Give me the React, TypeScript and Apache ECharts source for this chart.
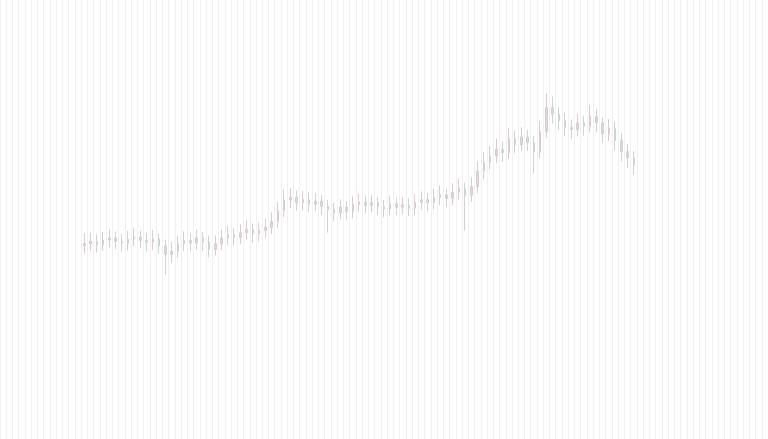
import React, { useEffect, useRef } from "react";
import * as echarts from "echarts";

// 123 trading-day slots across the canvas; candles occupy slots 13..101
const categories: string[] = Array.from({ length: 123 }, (_, i) => `D${i + 1}`);
const leadingEmpty = 13;
const trailingEmpty = 21;

// [open, close, low, high]
const candles: number[][] = [
  [44.0, 44.5, 42.2, 46.8], [44.5, 45.0, 42.8, 47.0], [45.0, 44.2, 42.5, 46.6], [44.2, 45.3, 42.9, 47.2],
  [45.3, 45.8, 43.6, 47.8], [45.8, 45.0, 43.2, 47.3], [45.0, 44.6, 42.6, 46.7], [44.6, 45.5, 43.0, 47.4],
  [45.5, 46.0, 43.9, 48.0], [46.0, 45.2, 43.4, 47.5], [45.2, 44.8, 42.7, 46.9], [44.8, 45.6, 43.1, 47.6],
  [45.6, 44.0, 42.2, 46.9], [44.0, 42.0, 37.5, 45.4], [42.0, 42.8, 40.2, 44.9], [42.8, 44.5, 41.3, 46.2],
  [44.5, 45.2, 42.8, 47.3], [45.2, 44.6, 42.9, 46.8], [44.6, 45.8, 43.1, 47.7], [45.8, 44.9, 43.0, 47.1],
  [44.9, 43.2, 41.4, 46.3], [43.2, 44.5, 41.8, 46.4], [44.5, 45.8, 43.0, 47.6], [45.8, 46.5, 44.2, 48.5],
  [46.5, 45.9, 44.0, 48.0], [45.9, 47.0, 44.4, 48.9], [47.0, 47.8, 45.5, 49.8], [47.8, 46.8, 44.6, 49.1],
  [46.8, 47.5, 45.0, 49.3], [47.5, 48.2, 45.9, 50.2], [48.2, 49.5, 46.8, 51.6], [49.5, 52.0, 48.0, 54.0],
  [52.0, 54.5, 50.5, 56.8], [54.5, 55.0, 52.6, 57.2], [55.0, 53.8, 52.0, 56.6], [53.8, 54.6, 52.1, 56.5],
  [54.6, 53.5, 51.7, 56.2], [53.5, 54.2, 51.9, 56.0], [54.2, 53.0, 51.1, 55.6], [53.0, 52.2, 47.0, 54.5],
  [52.2, 51.5, 49.6, 53.8], [51.5, 52.8, 50.0, 54.6], [52.8, 51.8, 50.0, 54.2], [51.8, 53.4, 50.3, 55.3],
  [53.4, 54.0, 51.8, 55.9], [54.0, 53.2, 51.4, 55.5], [53.2, 53.8, 51.6, 55.6], [53.8, 52.9, 51.1, 55.2],
  [52.9, 52.4, 50.5, 54.4], [52.4, 53.6, 50.9, 55.4], [53.6, 52.8, 51.0, 55.0], [52.8, 53.3, 51.2, 55.1],
  [53.3, 52.6, 50.8, 54.8], [52.6, 53.9, 51.1, 55.8], [53.9, 54.5, 52.2, 56.4], [54.5, 53.8, 52.0, 56.0],
  [53.8, 55.0, 52.3, 57.0], [55.0, 55.6, 53.3, 57.8], [55.6, 54.8, 52.9, 57.0], [54.8, 56.2, 53.2, 58.3],
  [56.2, 57.0, 54.5, 59.2], [57.0, 55.5, 47.5, 58.4], [55.5, 57.5, 54.0, 59.6], [57.5, 61.0, 56.0, 63.2],
  [61.0, 63.0, 59.2, 65.3], [63.0, 64.5, 61.4, 66.7], [64.5, 66.0, 62.8, 68.4], [66.0, 65.2, 63.1, 67.8],
  [65.2, 68.5, 63.8, 70.8], [68.5, 67.0, 65.1, 70.2], [67.0, 68.8, 65.5, 71.0], [68.8, 67.5, 65.6, 70.4],
  [67.5, 65.5, 60.5, 69.0], [65.5, 70.0, 64.0, 72.4], [70.0, 75.5, 68.6, 78.8], [75.5, 74.0, 71.9, 78.0],
  [74.0, 72.5, 70.4, 75.6], [72.5, 71.0, 69.0, 74.2], [71.0, 70.5, 68.4, 72.8], [70.5, 72.0, 68.9, 74.1],
  [72.0, 71.2, 69.1, 73.6], [71.2, 73.5, 69.8, 76.0], [73.5, 72.0, 69.9, 75.2], [72.0, 69.5, 67.5, 73.4],
  [69.5, 70.8, 67.9, 72.9], [70.8, 68.0, 65.8, 72.2], [68.0, 65.5, 63.2, 69.6], [65.5, 64.0, 61.8, 67.2],
  [64.0, 62.5, 60.2, 65.6],
];

export default function App() {
  const ref = useRef<HTMLDivElement>(null);
  useEffect(() => {
    document.body.style.margin = "0";
    const chart = echarts.init(ref.current!, undefined, { renderer: "svg" });
    const data: any[] = [
      ...Array(leadingEmpty).fill("-"),
      ...candles,
      ...Array(trailingEmpty).fill("-"),
    ];
    chart.setOption({
      animation: false,
      backgroundColor: "#ffffff",
      grid: { left: 0, right: 0, top: 0, bottom: 0 },
      xAxis: {
        type: "category",
        data: categories,
        boundaryGap: true,
        axisLine: { show: false },
        axisTick: { show: false },
        axisLabel: { show: false },
        splitLine: { show: true, interval: 0, lineStyle: { color: "#f0f0f0", width: 1 } },
      },
      yAxis: {
        type: "value",
        min: 0,
        max: 100,
        axisLine: { show: false },
        axisTick: { show: false },
        axisLabel: { show: false },
        splitLine: { show: false },
      },
      series: [
        {
          type: "candlestick",
          data,
          barWidth: 2,
          itemStyle: {
            color: "#e2d6d6",
            color0: "#d8dbd9",
            borderColor: "#d8cccc",
            borderColor0: "#cfd3d0",
            borderWidth: 1,
          },
        },
      ],
    });
    return () => chart.dispose();
  }, []);
  return <div ref={ref} style={{ width: 768, height: 439 }} />;
}
